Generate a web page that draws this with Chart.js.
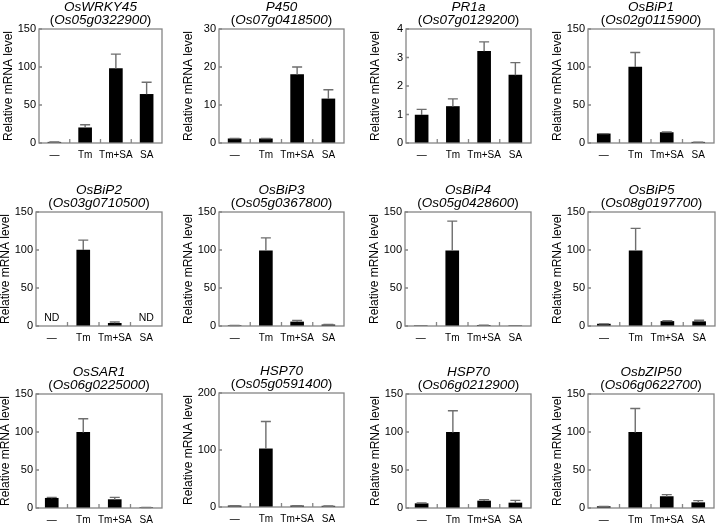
<!DOCTYPE html>
<html>
<head>
<meta charset="utf-8">
<script src="https://cdn.jsdelivr.net/npm/chart.js@4.4.1/dist/chart.umd.min.js"></script>
<style>
  body { margin: 0; background: #fff; width: 716px; height: 524px; overflow: hidden; position: relative; }
  canvas { position: absolute; }
</style>
</head>
<body>
<script>
const categories = ["—", "Tm", "Tm+SA", "SA"];

const geneNames = ["OsWRKY45", "P450", "PR1a", "OsBiP1",
                   "OsBiP2", "OsBiP3", "OsBiP4", "OsBiP5",
                   "OsSAR1", "HSP70", "HSP70", "OsbZIP50"];
const geneIds = ["Os05g0322900", "Os07g0418500", "Os07g0129200", "Os02g0115900",
                 "Os03g0710500", "Os05g0367800", "Os05g0428600", "Os08g0197700",
                 "Os06g0225000", "Os05g0591400", "Os06g0212900", "Os06g0622700"];

const yMaxValues = [150, 30, 4, 150, 150, 150, 150, 150, 150, 200, 150, 150];
const yStepValues = [50, 10, 1, 50, 50, 50, 50, 50, 50, 100, 50, 50];

// mean levels (null = ND)
const wrky45 = [1, 20, 98, 64];
const p450 = [1.1, 1.1, 18, 11.6];
const pr1a = [0.98, 1.28, 3.22, 2.38];
const bip1 = [12, 100, 13.7, 1];
const bip2 = [null, 100, 3.5, null];
const bip3 = [0.5, 99, 5.3, 1.5];
const bip4 = [0.3, 99, 0.8, 0.3];
const bip5 = [2.5, 99, 6, 5.7];
const sar1 = [12.8, 99.5, 11, 0.5];
const hsp70a = [2, 102, 2, 1.5];
const hsp70b = [5.7, 99.5, 9.2, 6.6];
const bzip50 = [1.8, 99.5, 15, 7];

// error (SD, upper only)
const wrky45Err = [0.3, 4, 19, 16];
const p450Err = [0.1, 0.1, 2, 2.4];
const pr1aErr = [0.2, 0.27, 0.33, 0.44];
const bip1Err = [0.3, 19, 1, 0.2];
const bip2Err = [0, 13, 1.8, 0];
const bip3Err = [0.2, 17, 2, 0.5];
const bip4Err = [0, 39, 0.3, 0];
const bip5Err = [0.3, 29.5, 1, 1.8];
const sar1Err = [1.2, 18, 3, 0.1];
const hsp70aErr = [0.3, 48, 0.3, 0.2];
const hsp70bErr = [0.8, 28.5, 1.8, 3.4];
const bzip50Err = [0.3, 31.5, 2.6, 2.7];

const allMeans = [wrky45, p450, pr1a, bip1, bip2, bip3, bip4, bip5, sar1, hsp70a, hsp70b, bzip50];
const allErrs = [wrky45Err, p450Err, pr1aErr, bip1Err, bip2Err, bip3Err, bip4Err, bip5Err, sar1Err, hsp70aErr, hsp70bErr, bzip50Err];

// plot area boxes on the page: left, top, width
const plotBoxes = [
  [39, 29, 123], [219, 29, 125], [406, 29, 125], [588, 29, 126],
  [36, 212, 126], [219, 212, 125], [405, 212, 126], [588, 212, 127],
  [36, 394, 126], [219, 393, 125], [406, 394, 125], [588, 394, 126]
];
const plotH = 114;
const padTop = 40, axisW = 38, padLeft = 2, axisH = 30, padRight = 4;

const FONT = "'Liberation Sans', Arial, Helvetica, sans-serif";
Chart.defaults.font.family = FONT;
Chart.defaults.color = "#000";

const panelPlugin = {
  id: "panelPlugin",
  afterDatasetsDraw(chart, args, opts) {
    const ctx = chart.ctx;
    const area = chart.chartArea;
    const x = chart.scales.x;
    const y = chart.scales.y;
    const meta = chart.getDatasetMeta(0);
    ctx.save();

    // error bars
    ctx.strokeStyle = "#6e6e6e";
    ctx.lineWidth = 1.4;
    opts.errs.forEach((e, i) => {
      const v = opts.means[i];
      if (v === null || !e) return;
      const bar = meta.data[i];
      const yTop = y.getPixelForValue(v + e);
      ctx.beginPath();
      ctx.moveTo(bar.x, bar.y);
      ctx.lineTo(bar.x, yTop);
      ctx.moveTo(bar.x - 5, yTop);
      ctx.lineTo(bar.x + 5, yTop);
      ctx.stroke();
    });

    // ND labels
    ctx.fillStyle = "#000";
    ctx.font = "10.5px " + FONT;
    ctx.textAlign = "center";
    ctx.textBaseline = "middle";
    opts.means.forEach((v, i) => {
      if (v === null) ctx.fillText("ND", x.getPixelForValue(i), area.bottom - 8);
    });

    // frame
    ctx.strokeStyle = "#858585";
    ctx.lineWidth = 1.3;
    ctx.strokeRect(area.left, area.top, area.right - area.left, area.bottom - area.top);

    // inward ticks between categories
    ctx.beginPath();
    for (let i = 0; i < categories.length - 1; i++) {
      const px = (x.getPixelForValue(i) + x.getPixelForValue(i + 1)) / 2;
      ctx.moveTo(px, area.bottom);
      ctx.lineTo(px, area.bottom - 4);
    }
    y.ticks.forEach(t => {
      const py = y.getPixelForValue(t.value);
      ctx.moveTo(area.left, py);
      ctx.lineTo(area.left + 3, py);
    });
    ctx.stroke();

    // two-line title
    const cx = (area.left + area.right) / 2;
    const fs = "13.5px ";
    ctx.fillStyle = "#000";
    ctx.textBaseline = "middle";
    ctx.textAlign = "center";
    ctx.font = "italic " + fs + FONT;
    ctx.fillText(opts.name, cx, area.top - 22);

    ctx.textAlign = "left";
    ctx.font = fs + FONT;
    const wp = ctx.measureText("(").width;
    const wc = ctx.measureText(")").width;
    ctx.font = "italic " + fs + FONT;
    const wi = ctx.measureText(opts.id).width;
    let sx = cx - (wp + wi + wc) / 2;
    const ly = area.top - 9;
    ctx.font = fs + FONT;
    ctx.fillText("(", sx, ly);
    ctx.font = "italic " + fs + FONT;
    ctx.fillText(opts.id, sx + wp, ly);
    ctx.font = fs + FONT;
    ctx.fillText(")", sx + wp + wi, ly);

    ctx.restore();
  }
};

function makePanel(k) {
  const [left, top, w] = plotBoxes[k];
  const canvas = document.createElement("canvas");
  const cw = padLeft + axisW + w + padRight;
  const ch = padTop + plotH + axisH;
  canvas.width = cw;
  canvas.height = ch;
  canvas.style.left = (left - padLeft - axisW) + "px";
  canvas.style.top = (top - padTop) + "px";
  canvas.style.width = cw + "px";
  canvas.style.height = ch + "px";
  document.body.appendChild(canvas);

  new Chart(canvas.getContext("2d"), {
    type: "bar",
    data: {
      labels: categories,
      datasets: [{
        data: allMeans[k],
        backgroundColor: "#000",
        borderWidth: 0,
        barThickness: 13
      }]
    },
    options: {
      responsive: false,
      animation: false,
      devicePixelRatio: 1,
      layout: { padding: { top: padTop, left: padLeft, right: padRight, bottom: 0 } },
      plugins: {
        legend: { display: false },
        tooltip: { enabled: false },
        panelPlugin: { means: allMeans[k], errs: allErrs[k], name: geneNames[k], id: geneIds[k] }
      },
      scales: {
        x: {
          offset: true,
          grid: { display: false, drawTicks: false },
          border: { display: false },
          ticks: { padding: 6, font: { size: 10 }, maxRotation: 0, autoSkip: false },
          afterFit(s) { s.height = axisH; }
        },
        y: {
          min: 0,
          max: yMaxValues[k],
          grid: { display: false, drawTicks: false },
          border: { display: false },
          ticks: { stepSize: yStepValues[k], padding: 3, font: { size: 11 } },
          title: { display: true, text: "Relative mRNA level", font: { size: 12 }, padding: 0 },
          afterFit(s) { s.width = axisW; }
        }
      }
    },
    plugins: [panelPlugin]
  });
}

for (let k = 0; k < 12; k++) makePanel(k);
</script>
</body>
</html>
